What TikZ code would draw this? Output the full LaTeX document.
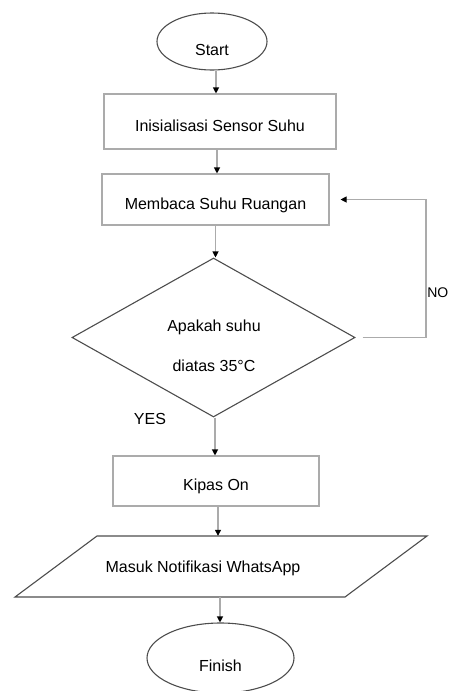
\documentclass[tikz,border=0pt]{standalone}
\usepackage{fontspec}
\setmainfont{Liberation Sans}
\usetikzlibrary{arrows.meta,shapes.geometric}
\definecolor{lgray}{HTML}{ABABAB}
\definecolor{dgray}{HTML}{4D4D4D}
\newcommand{\dropT}[2][5.5pt]{\raisebox{-#1}[\height][\depth]{#2}}
\begin{document}
\begin{tikzpicture}[x=1pt,y=-1pt,
  every node/.style={font=\fontsize{16}{19}\selectfont, inner sep=0pt, text height=11.5pt, text depth=3pt},
  procbox/.style={draw=lgray, line width=1.1pt, rectangle},
  term/.style={draw=dgray, line width=1.1pt, ellipse},
  flow/.style={draw=lgray, line width=1.1pt, -{Triangle[length=6pt,width=6pt,color=black]}}]
\useasboundingbox (0,0) rectangle (449,691);
\node[term, minimum width=110pt, minimum height=57pt] (start) at (212,41.5) {\dropT[9.5pt]{Start}};
\node[procbox, minimum width=232pt, minimum height=55pt] (init) at (220,121.5) {\dropT{Inisialisasi Sensor Suhu}};
\node[procbox, minimum width=227pt, minimum height=51pt] (read) at (215.5,199.5) {\dropT{Membaca Suhu Ruangan}};
\node[diamond, draw=dgray, line width=1.1pt, minimum width=283pt, minimum height=159pt] (dec) at (213.5,337.5) {};
\node (decA) at (214,327) {Apakah suhu};
\node (decB) at (214,367) {diatas 35°C};
\node[procbox, minimum width=206pt, minimum height=50pt] (kipas) at (216,481) {\dropT{Kipas On}};
\node[minimum width=412pt, minimum height=61pt] (notif) at (221,566.5) {};
\draw[dgray, line width=1.1pt] (97,536) -- (427,536) -- (345,597) -- (15,597) -- cycle;
\node (notiftxt) at (203,568) {Masuk Notifikasi WhatsApp};
\node[term, minimum width=147pt, minimum height=70pt] (finish) at (220.5,658) {\dropT[9pt]{Finish}};
\node (yes) at (150,420) {YES};
\node[anchor=east, font=\fontsize{14}{17}\selectfont] (no) at (448.5,293) {NO};
\coordinate (nocorner) at (426,338);
\draw[flow] ([xshift=4pt]start.south) -- ([xshift=4pt]start.south |- init.north);
\draw[flow] ([xshift=-3pt]init.south) -- ([xshift=-3pt]init.south |- read.north);
\draw[flow] (read.south) -- (read.south |- dec.north);
\draw[flow] ([xshift=1.5pt]dec.south) -- ([xshift=1.5pt]dec.south |- kipas.north);
\draw[flow] ([xshift=2pt]kipas.south) -- ([xshift=2pt]kipas.south |- notif.north);
\draw[flow] ([xshift=-1pt]notif.south) -- ([xshift=-1pt]notif.south |- finish.north);
\draw[flow] ([xshift=7pt]dec.east) -- (dec.east -| nocorner) -- (nocorner |- read.east) -- ([xshift=11pt]read.east);
\end{tikzpicture}
\end{document}
